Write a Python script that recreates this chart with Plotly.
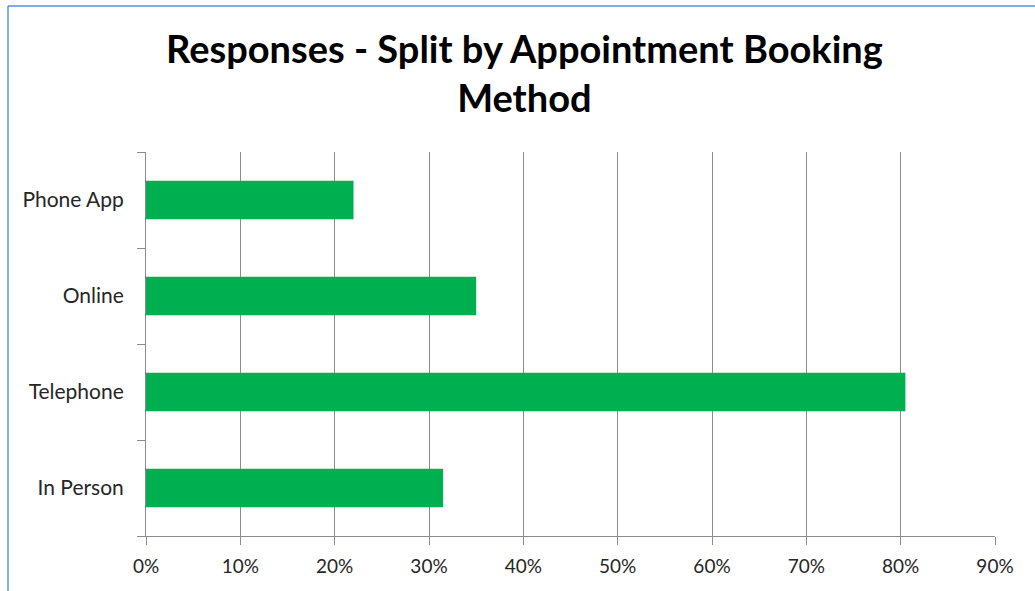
import plotly.graph_objects as go

# Booking method responses (share of respondents)
methods = ["In Person", "Telephone", "Online", "Phone App"]
shares = [0.315, 0.805, 0.35, 0.22]
x_ticks = [i / 10 for i in range(10)]
x_tick_labels = [f"{i * 10}%" for i in range(10)]

W, H = 1035, 591
M_L, M_R, M_T, M_B = 146, 40, 152, 55
FONT = "Lato, Carlito, Calibri, sans-serif"
GRID = "#8c8c8c"

fig = go.Figure(
    go.Bar(
        x=shares,
        y=methods,
        orientation="h",
        marker=dict(color="#00B050", line=dict(width=0)),
        width=0.4,
        hoverinfo="x+y",
    )
)

plot_w = W - M_L - M_R
plot_h = H - M_T - M_B


def px_x(p):
    return (p - M_L) / plot_w


def px_y(p):
    return (H - M_B - p) / plot_h


# thin blue frame along the top and left of the chart area
frame = dict(color="#5b8fd6", width=1.5)
fig.add_shape(type="line", xref="paper", yref="paper",
              x0=px_x(8), x1=px_x(W + 5), y0=px_y(6), y1=px_y(6), line=frame)
fig.add_shape(type="line", xref="paper", yref="paper",
              x0=px_x(8), x1=px_x(8), y0=px_y(6), y1=px_y(H + 5), line=frame)

# two-line chart title
fig.add_annotation(
    text="<b>Responses - Split by Appointment Booking<br>Method</b>",
    xref="paper", yref="paper",
    x=px_x(524), y=px_y(72),
    xanchor="center", yanchor="middle",
    showarrow=False,
    font=dict(family=FONT, size=38, color="#000000"),
)

fig.update_layout(
    width=W,
    height=H,
    margin=dict(l=M_L, r=M_R, t=M_T, b=M_B),
    paper_bgcolor="white",
    plot_bgcolor="white",
    showlegend=False,
    font=dict(family=FONT, size=19, color="#262626"),
    xaxis=dict(
        range=[0, 0.9],
        tickvals=x_ticks + [0.9],
        ticktext=x_tick_labels + ["90%"],
        tickfont=dict(size=19),
        showgrid=True,
        gridcolor=GRID,
        gridwidth=1,
        showline=True,
        linecolor=GRID,
        linewidth=1,
        ticks="outside",
        ticklen=8,
        tickcolor=GRID,
        ticklabelstandoff=5,
        zeroline=False,
        fixedrange=True,
    ),
    yaxis=dict(
        categoryorder="array",
        categoryarray=methods,
        tickfont=dict(size=21),
        showgrid=False,
        showline=True,
        linecolor=GRID,
        linewidth=1,
        ticks="outside",
        tickson="boundaries",
        ticklen=8,
        tickcolor=GRID,
        ticklabelstandoff=17,
        zeroline=False,
        fixedrange=True,
    ),
)

fig.write_html("out.html")
